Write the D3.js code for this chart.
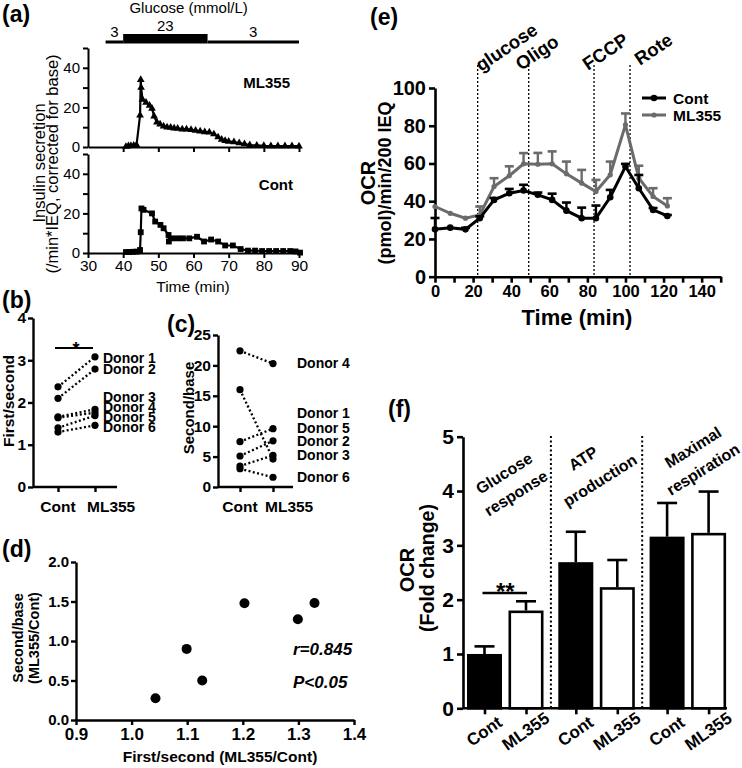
<!DOCTYPE html>
<html><head><meta charset="utf-8">
<script src="https://cdn.jsdelivr.net/npm/d3@7"></script>
<style>body{margin:0;background:#fff}svg{display:block}text{font-family:"Liberation Sans",Arial,Helvetica,sans-serif}</style>
</head><body><svg id="c" width="742" height="768"></svg>
<script>
// ---------- DATA ----------
// (a) perifusion
const glucoseLevels = ["3", "23", "3"];
const glucoseStart = [35, 40, 64];
const glucoseEnd = [40, 64, 90];
const timeTicksA = [30, 40, 50, 60, 70, 80, 90];
const mlTime = [40.8,41.5,42.2,43,43.8,44.8,45,45.1,45.5,46.5,47.5,48.2,48.8,49.6,50.5,51.5,52.5,53.5,54.5,55.5,56.8,58,59.3,60.6,61.9,63.2,64.5,65.8,67,68,69,70,71.5,73,74.5,76,78,80,82,84,86,88,90];
const mlIns  = [0.2,0.5,0.6,0.8,1,16,34,30,24,22.5,21,19.5,15.5,12.5,11.5,10.5,10,9.8,9.5,9.3,9,9,8.7,8.3,8,7.6,7.4,6.5,5,3.8,3.2,2.8,2.5,2,1.5,1,0.8,0.6,0.5,0.5,0.5,0.5,0.4];
const contTime = [40.8,41.8,42.8,43.8,44.8,45,45.2,45.8,48.2,49.1,50.6,51.5,52.9,53,53.9,55.5,57,58.8,61,63,65,67,69,71.2,73.4,75.5,77.5,79.5,81.5,83.5,85.5,87.5,89,90.3];
const contIns  = [0.5,0.5,0.6,0.7,1.5,10.5,22.5,21.8,20,15.9,14.2,12.5,9.1,5.8,7.4,7.4,7.4,7.4,8.2,5.8,6.8,5.8,3.8,3.8,2,1.2,1.2,1,1,1,1,1,0.8,0.2];
// (b) first/second
const pairCats = ["Cont", "ML355"];
const bCont = [2.37, 2.1, 1.66, 1.64, 1.4, 1.3];
const bML   = [3.08, 2.79, 1.84, 1.76, 1.69, 1.46];
const bDonors = ["Donor 1","Donor 2","Donor 3","Donor 4","Donor 5","Donor 6"];
// (c) second/base
const cCont = [22.4, 16, 7.45, 5.1, 3.45, 3.0];
const cML   = [20.3, 4.6, 9.6, 7.6, 5.2, 1.6];
const cDonors = ["Donor 4","Donor 1","Donor 5","Donor 2","Donor 3","Donor 6"];
// (d) correlation
const dX = [1.043, 1.099, 1.127, 1.203, 1.299, 1.329];
const dY = [0.275, 0.90, 0.50, 1.477, 1.275, 1.48];
const dStats = ["r=0.845", "P<0.05"];
// (e) OCR time course
const eTime = [0,8,16,23.5,31,39,46.5,54,61.5,69,77,84.5,92,100,107,114.5,122];
const eCont = [25.1,26,25.1,31,40.7,44.2,45.7,43.4,40.7,35,31,31,42.1,58.4,46.9,35.4,32.2];
const eContErr = [6,0,0.8,1,1,2.3,3,1.2,3.3,4.3,5.6,6.7,3.9,1.4,7,1,0.5];
const eML = [37.2,33.6,31,32.7,47.8,53.5,59.8,59.6,59.8,54.5,49.6,45.1,54,80.5,52.2,42.5,37.5];
const eMLErr = [0,0,0,4.5,4.4,5,5.7,6,6.6,6.5,7,6.2,7,6,6.6,4.4,4.1];
const injTimes = [22.4, 49.2, 83.5, 102.4];
const injNames = ["glucose", "Oligo", "FCCP", "Rote"];
// (f) fold change
const fGroups = [["Glucose","response"],["ATP","production"],["Maximal","respiration"]];
const fCont = [1.0, 2.69, 3.16];
const fContErr = [0.14, 0.56, 0.62];
const fML = [1.8, 2.23, 3.23];
const fMLErr = [0.17, 0.5, 0.76];

// ---------- HELPERS ----------
const FONT = '"Liberation Sans", Arial, Helvetica, sans-serif';
const svg = d3.select("#c");
svg.append("rect").attr("width",742).attr("height",768).attr("fill","#fff");
function txt(g, x, y, s, o = {}) {
  const t = g.append("text").attr("x", x).attr("y", y).text(s)
    .attr("font-size", o.size || 14).attr("font-weight", o.bold ? "bold" : "normal")
    .attr("text-anchor", o.anchor || "start").attr("fill", "#000").attr("font-family", FONT);
  if (o.italic) t.attr("font-style", "italic");
  if (o.rotate != null) t.attr("transform", `rotate(${o.rotate},${x},${y})`);
  return t;
}
function styleAxis(g, size, bold, sw = 2) {
  g.attr("font-family", FONT);
  g.select(".domain").attr("stroke", "#000").attr("stroke-width", sw);
  g.selectAll(".tick line").attr("stroke", "#000").attr("stroke-width", sw);
  g.selectAll(".tick text").attr("font-size", size).attr("font-weight", bold ? "bold" : "normal").attr("fill", "#000");
}
const dotted = "2,2.4";

// ---------- (a) ----------
{
  const g = svg.append("g");
  const x = d3.scaleLinear().domain([30, 90]).range([88, 299]);
  const y1 = d3.scaleLinear().domain([0, 50]).range([147, 48]);
  const y2 = d3.scaleLinear().domain([0, 50]).range([253, 154]);
  const thick = d3.scaleLinear().domain([3, 23]).range([3, 9.5]);

  glucoseLevels.forEach((lv, i) => {
    const h = thick(+lv);
    g.append("rect").attr("x", x(glucoseStart[i])).attr("width", x(glucoseEnd[i]) - x(glucoseStart[i]))
      .attr("y", 43.5 - h).attr("height", h).attr("fill", "#000");
    txt(g, x((glucoseStart[i] + glucoseEnd[i]) / 2), 43.5 - h - 3.5, lv, { size: 15, anchor: "middle" });
  });
  txt(g, x(58.6), 13, "Glucose (mmol/L)", { size: 15, anchor: "middle" });

  const ax1 = g.append("g").attr("transform", "translate(0,147)")
    .call(d3.axisBottom(x).tickValues([40, 50, 60, 70, 80, 90]).tickSize(5).tickSizeOuter(0).tickFormat(""));
  styleAxis(ax1, 15, false);
  const ax2 = g.append("g").attr("transform", "translate(0,253)")
    .call(d3.axisBottom(x).tickValues(timeTicksA).tickSize(5).tickSizeOuter(0).tickPadding(2));
  styleAxis(ax2, 15.5, false);
  const ay1 = g.append("g").attr("transform", "translate(88,0)")
    .call(d3.axisLeft(y1).tickValues([0, 10, 20, 30, 40, 50]).tickFormat(d => d % 20 ? "" : d).tickSize(5).tickSizeOuter(0).tickPadding(3));
  styleAxis(ay1, 15, false);
  const ay2 = g.append("g").attr("transform", "translate(88,0)")
    .call(d3.axisLeft(y2).tickValues([0, 10, 20, 30, 40, 50]).tickFormat(d => d % 20 ? "" : d).tickSize(5).tickSizeOuter(0).tickPadding(3));
  styleAxis(ay2, 15, false);

  const mlPts = mlTime.map((t, i) => [t, mlIns[i]]);
  const ctPts = contTime.map((t, i) => [t, contIns[i]]);
  g.append("path").datum(mlPts).attr("fill", "none").attr("stroke", "#000").attr("stroke-width", 2.2)
    .attr("d", d3.line().x(d => x(d[0])).y(d => y1(d[1])));
  g.selectAll(".tri").data(mlPts).join("path").attr("fill", "#000")
    .attr("transform", d => `translate(${x(d[0])},${y1(d[1])})`)
    .attr("d", d3.symbol(d3.symbolTriangle).size(26));
  g.append("path").datum(ctPts).attr("fill", "none").attr("stroke", "#000").attr("stroke-width", 2.2)
    .attr("d", d3.line().x(d => x(d[0])).y(d => y2(d[1])));
  g.selectAll(".sq").data(ctPts).join("path").attr("fill", "#000")
    .attr("transform", d => `translate(${x(d[0])},${y2(d[1])})`)
    .attr("d", d3.symbol(d3.symbolSquare).size(34));

  txt(g, 290, 88, "ML355", { size: 15, bold: true, anchor: "end" });
  txt(g, 293, 190, "Cont", { size: 15, bold: true, anchor: "end" });
  txt(g, 193, 292, "Time (min)", { size: 15.5, anchor: "middle" });
  txt(g, 45, 163, "Insulin secretion", { size: 16.5, anchor: "middle", rotate: -90 });
  txt(g, 58, 164, "(/min*IEQ, corrected for base)", { size: 16.5, anchor: "middle", rotate: -90 });
  txt(g, 2, 22, "(a)", { size: 23, bold: true });
}

function pairPanel(opt) {
  const g = svg.append("g");
  const y = d3.scaleLinear().domain([0, opt.max]).range([487, opt.top]);
  const x = d3.scalePoint().domain(pairCats).range(opt.xr);
  const ay = g.append("g").attr("transform", `translate(${opt.ax},0)`)
    .call(d3.axisLeft(y).ticks(opt.nt).tickSize(5).tickSizeOuter(0).tickPadding(2));
  styleAxis(ay, 15.5, true, 2.4);
  const axb = g.append("g").attr("transform", "translate(0,487)")
    .call(d3.axisBottom(x).tickSize(5).tickSizeOuter(0).tickFormat(""));
  axb.select(".domain").attr("d", `M${opt.ax},0H${opt.xend}`);
  styleAxis(axb, 15.5, true, 2.4);
  txt(g, x("Cont"), 512, "Cont", { size: 15.5, bold: true, anchor: "middle" });
  txt(g, x("ML355") - 8, 512, "ML355", { size: 15.5, bold: true });
  opt.a.forEach((v, i) => {
    g.append("line").attr("x1", x("Cont")).attr("x2", x("ML355")).attr("y1", y(v)).attr("y2", y(opt.b[i]))
      .attr("stroke", "#000").attr("stroke-width", 2.3).attr("stroke-dasharray", dotted);
  });
  const pts = opt.a.map(v => ["Cont", v]).concat(opt.b.map(v => ["ML355", v]));
  g.selectAll("circle").data(pts).join("circle").attr("cx", d => x(d[0])).attr("cy", d => y(d[1])).attr("r", 3.6).attr("fill", "#000");
  return { g, x, y };
}

// ---------- (b) ----------
{
  const { g } = pairPanel({ max: 4, top: 318, nt: 4, ax: 33, xr: [58, 95], xend: 117, a: bCont, b: bML });
  const labY = [363, 374, 402, 412, 422, 432];
  bDonors.forEach((s, i) => txt(g, 103, labY[i], s, { size: 14, bold: true }));
  g.append("line").attr("x1", 55).attr("x2", 93).attr("y1", 348).attr("y2", 348).attr("stroke", "#000").attr("stroke-width", 2.2);
  txt(g, 76, 355, "*", { size: 18, bold: true, anchor: "middle" });
  txt(g, 14, 401, "First/second", { size: 15.5, bold: true, anchor: "middle", rotate: -90 });
  txt(g, 2, 308, "(b)", { size: 23, bold: true });
}

// ---------- (c) ----------
{
  const { g } = pairPanel({ max: 25, top: 335, nt: 5, ax: 218, xr: [240, 273], xend: 293, a: cCont, b: cML });
  const labY = [368, 418, 433, 446, 460, 482];
  cDonors.forEach((s, i) => txt(g, 297, labY[i], s, { size: 14, bold: true }));
  txt(g, 194, 408, "Second/base", { size: 15, bold: true, anchor: "middle", rotate: -90 });
  txt(g, 167, 332, "(c)", { size: 23, bold: true });
}

// ---------- (d) ----------
{
  const g = svg.append("g");
  const x = d3.scaleLinear().domain([0.9, 1.4]).range([76, 354]);
  const y = d3.scaleLinear().domain([0, 2]).range([720, 562]);
  const ax = g.append("g").attr("transform", "translate(0,720)")
    .call(d3.axisBottom(x).tickValues([0.9, 1.0, 1.1, 1.2, 1.3, 1.4]).tickFormat(d3.format(".1f")).tickSize(5).tickSizeOuter(0).tickPadding(3));
  styleAxis(ax, 17, true, 2.4);
  const ay = g.append("g").attr("transform", "translate(76,0)")
    .call(d3.axisLeft(y).tickValues([0, 0.5, 1, 1.5, 2]).tickFormat(d3.format(".1f")).tickSize(5).tickSizeOuter(0).tickPadding(2));
  styleAxis(ay, 15, true, 2.4);
  g.selectAll("circle").data(dX).join("circle").attr("cx", d => x(d)).attr("cy", (d, i) => y(dY[i])).attr("r", 5).attr("fill", "#000");
  txt(g, 293, 655, dStats[0], { size: 17, bold: true, italic: true });
  txt(g, 293, 688, dStats[1], { size: 17, bold: true, italic: true });
  txt(g, 220, 762, "First/second (ML355/Cont)", { size: 15.5, bold: true, anchor: "middle" });
  txt(g, 23, 638, "Second/base", { size: 14.5, bold: true, anchor: "middle", rotate: -90 });
  txt(g, 39, 638, "(ML355/Cont)", { size: 14.5, bold: true, anchor: "middle", rotate: -90 });
  txt(g, 2, 557, "(d)", { size: 23, bold: true });
}

// ---------- (e) ----------
{
  const g = svg.append("g");
  const x = d3.scaleLinear().domain([0, 150]).range([435, 720.7]);
  const y = d3.scaleLinear().domain([0, 100]).range([276.7, 88]);
  const ax = g.append("g").attr("transform", "translate(0,276.7)")
    .call(d3.axisBottom(x).tickValues(d3.range(0, 151, 10)).tickFormat(d => d % 20 || d > 140 ? "" : d).tickSize(6).tickSizeOuter(0).tickPadding(3));
  styleAxis(ax, 16.5, true, 2.6);
  const ay = g.append("g").attr("transform", "translate(435,0)")
    .call(d3.axisLeft(y).tickValues([0, 20, 40, 60, 80, 100]).tickSize(6).tickSizeOuter(0).tickPadding(3));
  styleAxis(ay, 20, true, 2.6);

  injTimes.forEach(t => {
    g.append("line").attr("x1", x(t)).attr("x2", x(t)).attr("y1", 65).attr("y2", 276)
      .attr("stroke", "#000").attr("stroke-width", 1.3).attr("stroke-dasharray", "2,2");
  });
  const labPos = [[481, 72], [521, 71], [588, 71], [640, 66]];
  injNames.forEach((s, i) => txt(g, labPos[i][0], labPos[i][1], s, { size: 18.5, bold: true, rotate: -34 }));

  const series = [
    { v: eML, e: eMLErr, c: "#6b6b6b", r: 2.6 },
    { v: eCont, e: eContErr, c: "#000", r: 3.3 }
  ];
  series.forEach(s => {
    eTime.forEach((t, i) => {
      if (!s.e[i]) return;
      const yt = y(s.v[i] + s.e[i]);
      g.append("line").attr("x1", x(t)).attr("x2", x(t)).attr("y1", y(s.v[i])).attr("y2", yt).attr("stroke", s.c).attr("stroke-width", 2.4);
      g.append("line").attr("x1", x(t) - 4.5).attr("x2", x(t) + 4.5).attr("y1", yt).attr("y2", yt).attr("stroke", s.c).attr("stroke-width", 2.6);
    });
    g.append("path").datum(eTime.map((t, i) => [t, s.v[i]])).attr("fill", "none").attr("stroke", s.c).attr("stroke-width", 3)
      .attr("d", d3.line().x(d => x(d[0])).y(d => y(d[1])));
    g.selectAll(null).data(eTime).join("circle").attr("cx", d => x(d)).attr("cy", (d, i) => y(s.v[i])).attr("r", s.r).attr("fill", s.c);
  });
  [["Cont", "#000", 98, 3.3], ["ML355", "#6b6b6b", 115, 2.6]].forEach(([n, c, yy, r]) => {
    g.append("line").attr("x1", 642).attr("x2", 666).attr("y1", yy).attr("y2", yy).attr("stroke", c).attr("stroke-width", 3);
    g.append("circle").attr("cx", 654).attr("cy", yy).attr("r", r).attr("fill", c);
    txt(g, 673, yy + 5.5, n, { size: 15.5, bold: true });
  });
  txt(g, 577, 325, "Time (min)", { size: 22, bold: true, anchor: "middle" });
  txt(g, 375, 183, "OCR", { size: 20, bold: true, anchor: "middle", rotate: -90 });
  txt(g, 391, 183, "(pmol)/min/200 IEQ", { size: 18, bold: true, anchor: "middle", rotate: -90 });
  txt(g, 370, 25, "(e)", { size: 23, bold: true });
}

// ---------- (f) ----------
{
  const g = svg.append("g");
  const pos = d3.scaleLinear().domain([0, 1]).range([484.5, 526]);
  const y = d3.scaleLinear().domain([0, 5]).range([708.3, 436.7]);
  const bw = 35;
  const bars = [];
  fGroups.forEach((gr, gi) => {
    bars.push({ p: gi * 2.2, v: fCont[gi], e: fContErr[gi], fill: "#000", lab: "Cont" });
    bars.push({ p: gi * 2.2 + 1, v: fML[gi], e: fMLErr[gi], fill: "#fff", lab: "ML355" });
  });
  [1.6, 3.8].forEach(p => g.append("line").attr("x1", pos(p)).attr("x2", pos(p)).attr("y1", 436).attr("y2", 708)
    .attr("stroke", "#000").attr("stroke-width", 2).attr("stroke-dasharray", "2,2.5"));
  bars.forEach(b => {
    const cx = pos(b.p);
    const yt = y(b.v + b.e);
    g.append("line").attr("x1", cx).attr("x2", cx).attr("y1", y(b.v)).attr("y2", yt).attr("stroke", "#000").attr("stroke-width", 2.6);
    g.append("line").attr("x1", cx - 10).attr("x2", cx + 10).attr("y1", yt).attr("y2", yt).attr("stroke", "#000").attr("stroke-width", 2.6);
    g.append("rect").attr("x", cx - bw / 2 + 1.3).attr("width", bw - 2.6).attr("y", y(b.v) + 1.3).attr("height", y(0) - y(b.v) - 1.3)
      .attr("fill", b.fill).attr("stroke", "#000").attr("stroke-width", 2.6);
  });
  const ay = g.append("g").attr("transform", "translate(463,0)")
    .call(d3.axisLeft(y).ticks(5).tickSize(6).tickSizeOuter(0).tickPadding(3));
  styleAxis(ay, 21, true, 2.6);
  const axb = g.append("g").attr("transform", "translate(0,708.3)")
    .call(d3.axisBottom(d3.scaleIdentity()).tickValues(bars.map(b => pos(b.p))).tickSize(6).tickSizeOuter(0).tickFormat(""));
  axb.select(".domain").attr("d", "M463,0H727");
  styleAxis(axb, 16, true, 2.6);
  bars.forEach(b => txt(g, pos(b.p) + 3, 736, b.lab, { size: 17, bold: true, anchor: "middle", rotate: -35 }));
  const gl = [[[507, 478], [519, 498]], [[586, 463], [603, 485]], [[696, 452], [706, 474]]];
  fGroups.forEach((gr, gi) => gr.forEach((s, li) => txt(g, gl[gi][li][0], gl[gi][li][1], s, { size: 16, bold: true, anchor: "middle", rotate: -32 })));
  g.append("line").attr("x1", pos(0) - 2).attr("x2", pos(1) + 1).attr("y1", 593).attr("y2", 593).attr("stroke", "#000").attr("stroke-width", 2.4);
  txt(g, (pos(0) + pos(1)) / 2, 600, "**", { size: 24, bold: true, anchor: "middle" });
  txt(g, 414, 570, "OCR", { size: 20, bold: true, anchor: "middle", rotate: -90 });
  txt(g, 434, 568, "(Fold change)", { size: 19.5, bold: true, anchor: "middle", rotate: -90 });
  txt(g, 388, 417, "(f)", { size: 23, bold: true });
}
</script></body></html>
